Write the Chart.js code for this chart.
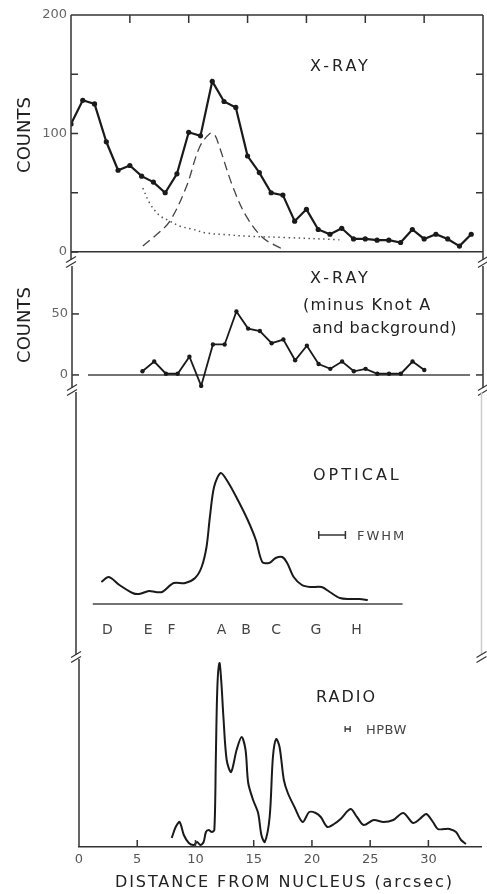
<!DOCTYPE html>
<html>
<head>
<meta charset="utf-8">
<script src="https://cdn.jsdelivr.net/npm/chart.js@4"></script>
<style>
  body { margin: 0; background: #fff; }
  #wrap { position: relative; width: 487px; height: 894px; font-family: 'DejaVu Sans', sans-serif; color: #222; }
  #wrap canvas { position: absolute; left: 0; top: 0; }
  .lbl { position: absolute; white-space: nowrap; line-height: 1; transform: translateY(-50%); }
  .vlbl { position: absolute; white-space: nowrap; line-height: 1; transform: translate(-50%, -50%) rotate(-90deg); font-size: 18px; }
</style>
</head>
<body>
<div id="wrap">
  <canvas id="xrayChart" width="487" height="894"></canvas>
  <canvas id="residChart" width="487" height="894"></canvas>
  <canvas id="opticalChart" width="487" height="894"></canvas>
  <canvas id="radioChart" width="487" height="894"></canvas>

  <div class="vlbl" style="left:24px;top:135px">COUNTS</div>
  <div class="vlbl" style="left:24px;top:325px">COUNTS</div>

  <div class="lbl" style="left:310px;top:66px;font-size:16px;letter-spacing:3px">X-RAY</div>
  <div class="lbl" style="left:310px;top:278px;font-size:16px;letter-spacing:3px">X-RAY</div>
  <div class="lbl" style="left:303px;top:305px;font-size:16px;letter-spacing:1.2px">(minus Knot A</div>
  <div class="lbl" style="left:312px;top:328px;font-size:16px;letter-spacing:0.6px">and background)</div>
  <div class="lbl" style="left:313px;top:475px;font-size:16px;letter-spacing:3px">OPTICAL</div>
  <div class="lbl" style="left:357px;top:535px;font-size:13px;letter-spacing:2px;color:#444">FWHM</div>
  <div class="lbl" style="left:316px;top:697px;font-size:16px;letter-spacing:2px">RADIO</div>
  <div class="lbl" style="left:366px;top:729px;font-size:13px;letter-spacing:0.5px;color:#444">HPBW</div>
  <div class="lbl" style="left:115px;top:882px;font-size:16px;letter-spacing:1.9px">DISTANCE FROM NUCLEUS (arcsec)</div>
</div>

<script>
// x-ray counts, one bin per arcsec (top panel)
const xrayPos = [0,1,2,3,4,5,6,7,8,9,10,11,12,13,14,15,16,17,18,19,20,21,22,23,24,25,26,27,28,29,30,31,32,33,34];
const xrayCounts = [108,128,125,93,69,73,64,59,50,66,101,98,144,127,122,81,67,50,48,26,36,19,15,20,11,11,10,10,8,19,11,15,11,5,15];

// fitted knot A profile (dashed) and background (dotted)
const knotAPos = [6.1,7.3,8.4,9.8,10.9,11.8,12.2,12.6,13.75,14.9,16.3,17.85];
const knotACounts = [5,15,26,55,88,100,99,89,55,30,12,3];
const bgPos = [6.1,6.7,7.5,8.4,9.2,10.4,11.5,13.2,15.2,18.0,22.8];
const bgCounts = [54,41,31,26,22,19,16,14.6,13.2,12.3,10.4];

// x-ray minus knot A and background
const residPos = [6,7,8,9,10,11,12,13,14,15,16,17,18,19,20,21,22,23,24,25,26,27,28,29,30];
const residCounts = [3,11,1,1,15,-9,25,25,52,38,36,26,29,12,24,9,5,11,3,5,1,1,1,11,4];

// optical profile (arbitrary units)
const opticalPos = [2.18,2.82,3.73,4.86,5.42,6.27,6.84,7.4,8.39,9.38,10.23,10.79,11.21,11.5,11.86,12.43,13.05,13.9,14.75,15.45,16.0,16.58,17.15,17.71,18.14,18.7,19.4,20.1,21.1,21.8,22.66,23.5,24.35,25.06];
const opticalFlux = [22,27,19,11,10,13,12,12,21,21,26,37,57,87,117,131,122,104,84,64,42,41,46,47,41,27,19,17,17,12,6,5,5,4];

// radio profile (arbitrary units)
const radioPos = [7.96,8.3,8.64,9.0,9.43,9.86,10.14,10.42,10.7,10.9,11.13,11.4,11.62,11.75,11.88,12.06,12.22,12.4,12.68,13.06,13.53,13.96,14.3,14.53,14.95,15.38,15.66,15.95,16.37,16.65,16.93,17.22,17.59,17.93,18.5,19.2,19.77,20.33,20.76,21.33,21.9,22.46,23.31,23.87,24.44,25.3,26.14,26.99,27.84,28.69,29.26,29.82,30.39,30.81,31.38,31.8,32.37,32.8,33.22];
const radioFlux = [9,20,25,12,4,2,5,2,5,15,17,15,17,90,160,184,165,130,87,75,97,110,97,64,47,34,12,5,30,90,108,100,67,54,40,25,35,34,30,20,23,28,38,30,22,27,25,27,34,24,28,33,25,18,18,18,15,7,3];

// knot names under the optical profile
const knotNames = ['D','E','F','A','B','C','G','H'];
const knotPos = [2.7,6.2,8.2,12.5,14.6,17.2,20.6,24.1];

// ticks
const distTicks = [0,5,10,15,20,25,30];
const countTicksTop = [0,50,100,150,200];
const countTicksResid = [0,50];

// resolution bars
const fwhmRange = [20.85,23.14];
const hpbwRange = [22.85,23.28];

const PX_PER_ARCSEC = 11.8;
const INK = '#1a1a1a';

// where each panel sits on the page
const panels = {
  xray:    { left: 71, top: 15,  right: 484, bottom: 260, yMin: -6.75, yMax: 200 },
  resid:   { left: 72, top: 266, right: 485, bottom: 388, yMin: -10.7, yMax: 89.3 },
  optical: { left: 76, top: 392, right: 487, bottom: 655, yMin: -51,   yMax: 212 },
  radio:   { left: 79, top: 659, right: 487, bottom: 847, yMin: 0,     yMax: 188 }
};

const pts = (xs, ys) => xs.map((x, i) => ({ x: x, y: ys[i] }));

Chart.defaults.font.family = "'DejaVu Sans', sans-serif";

// frame lines, inward ticks and axis break marks
const framePlugin = {
  id: 'frame',
  afterDraw(chart, args, o) {
    const { ctx, chartArea: a, scales } = chart;
    const x = scales.x, y = scales.y;
    const line = (x1, y1, x2, y2) => { ctx.beginPath(); ctx.moveTo(x1, y1); ctx.lineTo(x2, y2); ctx.stroke(); };
    ctx.save();
    ctx.strokeStyle = '#333';
    ctx.lineWidth = 1.5;
    if (o.left) line(a.left, a.top, a.left, a.bottom);
    if (o.top) line(a.left, a.top, a.right, a.top);
    if (o.right) {
      ctx.strokeStyle = o.rightColor || '#333';
      line(a.right, a.top, a.right, a.bottom);
      ctx.strokeStyle = '#333';
    }
    (o.leftTicks || []).forEach(v => { const p = y.getPixelForValue(v); line(a.left, p, a.left + 7, p); });
    (o.rightTicks || []).forEach(v => { const p = y.getPixelForValue(v); line(a.right - 7, p, a.right, p); });
    (o.topTicks || []).forEach(v => { const p = x.getPixelForValue(v); line(p, a.top, p, a.top + 8); });
    (o.bottomTicks || []).forEach(v => { const p = x.getPixelForValue(v); line(p, a.bottom - 7, p, a.bottom); });
    ctx.lineWidth = 1.2;
    (o.breaks || []).forEach(side => {
      const bx = side === 'left' ? a.left : a.right;
      const by = a.bottom + 2;
      [-2.5, 2.5].forEach(d => line(bx - 5, by + d + 3, bx + 5, by + d - 3));
    });
    ctx.restore();
  }
};
Chart.register(framePlugin);

// letters of the knots, placed on the distance scale
const knotLabels = {
  id: 'knotLabels',
  afterDraw(chart) {
    const { ctx, scales: { x, y } } = chart;
    ctx.save();
    ctx.fillStyle = '#444';
    ctx.font = "14px 'DejaVu Sans', sans-serif";
    ctx.textAlign = 'center';
    ctx.textBaseline = 'middle';
    knotNames.forEach((n, i) => ctx.fillText(n, x.getPixelForValue(knotPos[i]), y.getPixelForValue(-26)));
    ctx.restore();
  }
};

function baseOptions(p, frame, showX) {
  return {
    responsive: false,
    animation: false,
    events: [],
    layout: { padding: { left: 0, top: p.top, right: 487 - p.right, bottom: showX ? 0 : 894 - p.bottom } },
    plugins: { legend: { display: false }, tooltip: { enabled: false }, frame: frame },
    scales: {
      x: {
        type: 'linear',
        min: 0,
        max: (p.right - p.left) / PX_PER_ARCSEC,
        display: showX
      },
      y: {
        min: p.yMin,
        max: p.yMax,
        afterFit: s => { s.width = p.left; },
        ticks: { display: false },
        grid: { display: false, drawTicks: false },
        border: { display: false }
      }
    }
  };
}

const lineStyle = { borderColor: INK, borderWidth: 2, pointRadius: 0, fill: false, tension: 0.3 };

// top panel: x-ray counts with knot A fit and background
const xrayOpts = baseOptions(panels.xray, {
  left: true, right: true, top: true,
  leftTicks: [0, 50, 100, 150], rightTicks: [50, 100, 150],
  topTicks: distTicks.slice(1), breaks: ['left', 'right']
}, false);
xrayOpts.scales.y.afterBuildTicks = s => { s.ticks = countTicksTop.map(v => ({ value: v })); };
xrayOpts.scales.y.ticks = { display: true, padding: 4, color: '#666', font: { size: 13 }, callback: v => (v % 100 === 0 ? v : '') };
xrayOpts.scales.y.grid = { display: true, drawTicks: false, lineWidth: 1.5, color: c => (c.tick && c.tick.value === 0 ? '#333' : 'rgba(0,0,0,0)') };

new Chart(document.getElementById('xrayChart'), {
  type: 'line',
  data: {
    datasets: [
      { data: pts(xrayPos, xrayCounts), borderColor: INK, borderWidth: 2.2, pointRadius: 2.6,
        pointBackgroundColor: INK, pointBorderWidth: 0, tension: 0 },
      { data: pts(knotAPos, knotACounts), borderColor: '#444', borderWidth: 1.3, borderDash: [9, 5],
        pointRadius: 0, tension: 0.35 },
      { data: pts(bgPos, bgCounts), borderColor: '#555', borderWidth: 1.5, borderDash: [1.5, 3.5],
        pointRadius: 0, tension: 0.35 }
    ]
  },
  options: xrayOpts
});

// second panel: residual x-ray counts
const residOpts = baseOptions(panels.resid, {
  left: true, right: true, leftTicks: [0, 50], rightTicks: [0, 50], breaks: ['left', 'right']
}, false);
residOpts.scales.y.afterBuildTicks = s => { s.ticks = countTicksResid.map(v => ({ value: v })); };
residOpts.scales.y.ticks = { display: true, padding: 4, color: '#666', font: { size: 13 } };

new Chart(document.getElementById('residChart'), {
  type: 'line',
  data: {
    datasets: [
      { data: pts(residPos, residCounts), borderColor: INK, borderWidth: 1.8, pointRadius: 2.2,
        pointBackgroundColor: INK, pointBorderWidth: 0, tension: 0 },
      { data: pts([1.36, 33.9], [0, 0]), borderColor: '#444', borderWidth: 1.4, pointRadius: 0 }
    ]
  },
  options: residOpts
});

// third panel: optical profile
new Chart(document.getElementById('opticalChart'), {
  type: 'line',
  data: {
    datasets: [
      Object.assign({ data: pts(opticalPos, opticalFlux) }, lineStyle),
      { data: pts([1.44, 28.05], [0, 0]), borderColor: '#444', borderWidth: 1.4, pointRadius: 0 },
      { data: pts(fwhmRange, [69, 69]), borderColor: '#333', borderWidth: 1.5, pointStyle: 'line',
        rotation: 90, pointRadius: 4, pointBorderColor: '#333', pointBorderWidth: 1.5 }
    ]
  },
  options: baseOptions(panels.optical, { left: true, right: true, rightColor: '#ccc', breaks: ['left', 'right'] }, false),
  plugins: [knotLabels]
});

// bottom panel: radio profile with the distance axis
const radioOpts = baseOptions(panels.radio, { left: true, bottomTicks: distTicks.slice(1) }, true);
radioOpts.scales.x = {
  type: 'linear',
  min: 0,
  max: (panels.radio.right - panels.radio.left) / PX_PER_ARCSEC,
  afterFit: s => { s.height = 894 - panels.radio.bottom; },
  afterBuildTicks: s => { s.ticks = distTicks.map(v => ({ value: v })); },
  ticks: { padding: 5, color: '#555', font: { size: 13 }, maxRotation: 0, autoSkip: false },
  grid: { display: false, drawTicks: false },
  border: { display: true, color: '#333', width: 1.5 }
};

new Chart(document.getElementById('radioChart'), {
  type: 'line',
  data: {
    datasets: [
      Object.assign({ data: pts(radioPos, radioFlux) }, lineStyle),
      { data: pts(hpbwRange, [118, 118]), borderColor: '#333', borderWidth: 1.3, pointStyle: 'line',
        rotation: 90, pointRadius: 3, pointBorderColor: '#333', pointBorderWidth: 1.3 }
    ]
  },
  options: radioOpts
});
</script>
</body>
</html>
